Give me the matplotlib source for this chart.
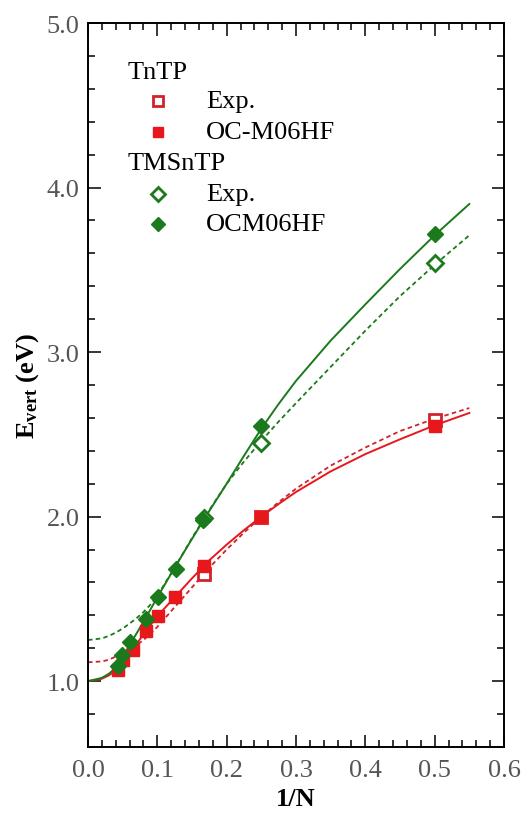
import matplotlib
matplotlib.use("Agg")
import matplotlib.pyplot as plt
from matplotlib.ticker import MultipleLocator

plt.rcParams['font.family'] = ['Liberation Serif', 'DejaVu Serif']
plt.rcParams['mathtext.fontset'] = 'custom'
plt.rcParams['mathtext.rm'] = 'Liberation Serif'
plt.rcParams['mathtext.bf'] = 'Liberation Serif:bold'
plt.rcParams['mathtext.it'] = 'Liberation Serif:italic'

# ---- data ----
# TnTP
tntp_exp_x = [0.5, 0.25, 0.1667]
tntp_exp_y = [2.59, 2.00, 1.65]
tntp_calc_x = [0.5, 0.25, 0.1667, 0.125, 0.1015, 0.0837, 0.0645, 0.051, 0.0438]
tntp_calc_y = [2.55, 2.00, 1.70, 1.51, 1.395, 1.305, 1.19, 1.13, 1.07]
# TMSnTP
tms_exp_x = [0.5, 0.25, 0.1667]
tms_exp_y = [3.54, 2.45, 1.99]
tms_calc_x = [0.5, 0.25, 0.166, 0.127, 0.1015, 0.0837, 0.0606, 0.0486, 0.0438]
tms_calc_y = [3.72, 2.55, 1.98, 1.68, 1.51, 1.38, 1.24, 1.16, 1.09]

# fitted curves
fit_x = [0.0, 0.02, 0.03, 0.04, 0.05, 0.06, 0.07, 0.08, 0.09, 0.10, 0.125, 0.15,
         0.175, 0.20, 0.225, 0.25, 0.275, 0.30, 0.35, 0.40, 0.45, 0.50, 0.55]
tntp_calc_fit = [1.00, 1.015, 1.035, 1.065, 1.11, 1.165, 1.225, 1.285, 1.34, 1.395, 1.51, 1.625,
                 1.735, 1.83, 1.918, 2.00, 2.077, 2.15, 2.275, 2.38, 2.47, 2.555, 2.63]
tntp_exp_fit = [1.115, 1.12, 1.13, 1.15, 1.167, 1.19, 1.218, 1.25, 1.287, 1.33, 1.45, 1.57,
                1.69, 1.80, 1.903, 2.00, 2.088, 2.17, 2.31, 2.42, 2.52, 2.595, 2.66]
tms_calc_fit = [1.00, 1.02, 1.045, 1.08, 1.145, 1.22, 1.29, 1.36, 1.435, 1.51, 1.69, 1.865,
                2.035, 2.20, 2.37, 2.535, 2.685, 2.825, 3.07, 3.29, 3.505, 3.71, 3.90]
tms_exp_fit = [1.25, 1.26, 1.275, 1.295, 1.32, 1.35, 1.383, 1.42, 1.465, 1.52, 1.69, 1.87,
               2.04, 2.20, 2.335, 2.46, 2.578, 2.69, 2.91, 3.13, 3.34, 3.53, 3.71]

x_ticks = [0.0, 0.1, 0.2, 0.3, 0.4, 0.5, 0.6]
y_ticks = [1.0, 2.0, 3.0, 4.0, 5.0]

RED = '#e8171c'
RED_OPEN = '#d0232a'
GREEN = '#1b7a1b'

fig = plt.figure(figsize=(5.24, 8.2), dpi=100)
ax = fig.add_axes([88/524, 1 - 748/820, 416/524, 724/820])

# curves
ax.plot(fit_x, tntp_calc_fit, color=RED, lw=1.4, zorder=2)
ax.plot(fit_x, tntp_exp_fit, color=RED_OPEN, lw=1.3, ls=(0, (2.5, 1.8)), zorder=2)
ax.plot(fit_x, tms_calc_fit, color=GREEN, lw=1.4, zorder=2)
ax.plot(fit_x, tms_exp_fit, color=GREEN, lw=1.3, ls=(0, (2.5, 1.8)), zorder=2)

# markers
ax.plot(tntp_exp_x, tntp_exp_y, ls='none', marker='s', ms=8.5, mfc='white', mec=RED_OPEN, mew=2, zorder=3)
ax.plot(tms_exp_x, tms_exp_y, ls='none', marker='D', ms=8.5, mfc='white', mec=GREEN, mew=2, zorder=3)
ax.plot(tntp_calc_x, tntp_calc_y, ls='none', marker='s', ms=8.5, color=RED, zorder=4)
ax.plot(tms_calc_x, tms_calc_y, ls='none', marker='D', ms=8.5, color=GREEN, zorder=4)

ax.set_xlim(0.0, 0.6)
ax.set_ylim(0.6, 5.0)
ax.set_xticks(x_ticks)
ax.set_xticklabels([f'{v:.1f}' for v in x_ticks])
ax.set_yticks(y_ticks)
ax.set_yticklabels([f'{v:.1f}' for v in y_ticks])
ax.xaxis.set_minor_locator(MultipleLocator(0.02))
ax.yaxis.set_minor_locator(MultipleLocator(0.2))
ax.tick_params(which='both', direction='in', top=True, right=True, width=1.1, color='black')
ax.tick_params(which='major', length=9)
ax.tick_params(which='minor', length=5)
ax.tick_params(axis='x', which='major', labelsize=19, labelcolor='#555555', pad=9)
ax.tick_params(axis='y', which='major', labelsize=19, labelcolor='#555555', pad=6)
for s in ax.spines.values():
    s.set_linewidth(1.4)

ax.set_xlabel('1/N', fontsize=19, fontweight='bold', labelpad=4)
ax.set_ylabel(r'$\mathbf{E_{vert}}$ (eV)', fontsize=19, fontweight='bold', labelpad=4)

# legend (manual, grouped)
tr = ax.transAxes
hx, mx, tx = 0.094, 0.168, 0.284
ax.text(hx, 0.932, 'TnTP', transform=tr, fontsize=19, va='center', ha='left')
ax.plot([mx], [0.892], transform=tr, marker='s', ms=7, mfc='white', mec=RED_OPEN, mew=2, ls='none')
ax.text(tx, 0.892, 'Exp.', transform=tr, fontsize=19, va='center', ha='left')
ax.plot([mx], [0.849], transform=tr, marker='s', ms=7, color=RED, ls='none')
ax.text(tx, 0.849, 'OC-M06HF', transform=tr, fontsize=19, va='center', ha='left')
ax.text(hx, 0.806, 'TMSnTP', transform=tr, fontsize=19, va='center', ha='left')
ax.plot([mx], [0.764], transform=tr, marker='D', ms=7, mfc='white', mec=GREEN, mew=2, ls='none')
ax.text(tx, 0.764, 'Exp.', transform=tr, fontsize=19, va='center', ha='left')
ax.plot([mx], [0.722], transform=tr, marker='D', ms=7, color=GREEN, ls='none')
ax.text(tx, 0.722, 'OCM06HF', transform=tr, fontsize=19, va='center', ha='left')

fig.savefig('out.png', dpi=100)
